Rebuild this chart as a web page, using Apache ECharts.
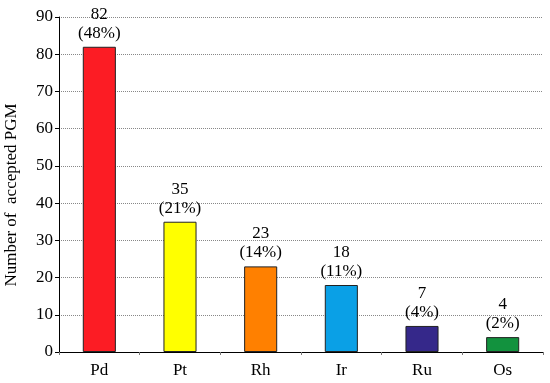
<!DOCTYPE html>
<html><head><meta charset="utf-8">
<script src="https://cdn.jsdelivr.net/npm/echarts@6/dist/echarts.min.js"></script>
<style>html,body{margin:0;padding:0;background:#fff}#c{width:550px;height:383px}</style>
</head><body><div id="c"></div>
<script>
const categories = ['Pd', 'Pt', 'Rh', 'Ir', 'Ru', 'Os'];
const counts = [82, 35, 23, 18, 7, 4];
const percents = ['48%', '21%', '14%', '11%', '4%', '2%'];
const colors = ['#fc1c24', '#ffff00', '#ff8000', '#0aa0e6', '#35288a', '#12923e'];
const yTicks = [0, 10, 20, 30, 40, 50, 60, 70, 80, 90];
const yTitle = 'Number of  accepted PGM';

const font = '"Liberation Serif", "Times New Roman", serif';
const chart = echarts.init(document.getElementById('c'));
chart.setOption({
  animation: false,
  grid: { left: 59, right: 7, top: 17, bottom: 31 },
  graphic: [{
    type: 'text', x: 12, y: 195, rotation: Math.PI / 2,
    style: { text: yTitle, fill: '#000', font: '17px ' + font, align: 'center', verticalAlign: 'middle' }
  }],
  xAxis: {
    type: 'category', data: categories,
    axisLine: { lineStyle: { color: '#000', width: 1 } },
    axisTick: { show: true, inside: false, length: 3, lineStyle: { color: '#777' } },
    axisLabel: { color: '#000', fontFamily: font, fontSize: 17, margin: 10 }
  },
  yAxis: {
    type: 'value', min: 0, max: 90, interval: 10,
    axisLine: { show: true, lineStyle: { color: '#000', width: 1 } },
    axisTick: { show: true, length: 4, lineStyle: { color: '#000' } },
    axisLabel: { color: '#000', fontFamily: font, fontSize: 17, margin: 6,
      formatter: v => yTicks.includes(v) ? String(v) : '' },
    splitLine: { show: true, lineStyle: { color: '#888', type: [1, 1], width: 1 } }
  },
  series: [{
    type: 'bar', barWidth: '41%',
    data: counts.map((v, i) => ({ value: v, itemStyle: { color: colors[i] } })),
    itemStyle: { borderColor: '#222', borderWidth: 1 },
    label: {
      show: true, position: 'top', distance: 4, color: '#000',
      fontFamily: font, fontSize: 17, lineHeight: 19, align: 'center',
      formatter: p => p.value + '\n(' + percents[p.dataIndex] + ')'
    }
  }]
});
</script></body></html>
